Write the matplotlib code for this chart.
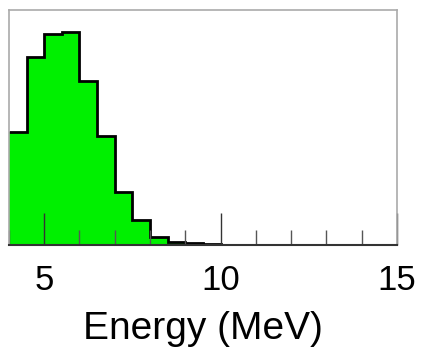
import matplotlib
matplotlib.use("Agg")
import matplotlib.pyplot as plt
from matplotlib.ticker import MultipleLocator
import numpy as np

# histogram (0.5 MeV bins, arbitrary units)
bin_edges = [4.0, 4.5, 5.0, 5.5, 6.0, 6.5, 7.0, 7.5, 8.0, 8.5, 9.0, 9.5, 10.0,
             10.5, 11.0, 11.5, 12.0, 12.5, 13.0, 13.5, 14.0, 14.5, 15.0]
counts = [481, 798, 896, 904, 695, 462, 225, 106, 35, 14, 10, 6, 2,
          1, 0, 0, 0, 0, 0, 0, 0, 0]
x_ticks = [5, 10, 15]

plt.rcParams['font.family'] = ['Liberation Sans', 'DejaVu Sans']

fig = plt.figure(figsize=(4.24, 3.52), dpi=100)
ax = fig.add_axes([0.021, 0.304, 0.915, 0.669])

ax.stairs(counts, bin_edges, fill=True, color='#00f000', linewidth=0)
# outline only, no end verticals
ax.stairs(counts, bin_edges, baseline=None, color='black', linewidth=2.0)

ax.set_xlim(4, 15)
ax.set_ylim(0, 1000)
ax.set_xticks(x_ticks)
ax.xaxis.set_minor_locator(MultipleLocator(1))
ax.set_yticks([])

ax.tick_params(axis='x', which='major', direction='in', length=23, width=1,
               color='#333333', labelsize=25, pad=14)
ax.tick_params(axis='x', which='minor', direction='in', length=11, width=1,
               color='#555555')

for side in ['left', 'top', 'right']:
    ax.spines[side].set_color('#aaaaaa')
    ax.spines[side].set_linewidth(1.2)
ax.spines['bottom'].set_color('#333333')
ax.spines['bottom'].set_linewidth(1.5)

ax.set_xlabel('Energy (MeV)', fontsize=28, labelpad=10)

fig.savefig('out.png', dpi=100)
